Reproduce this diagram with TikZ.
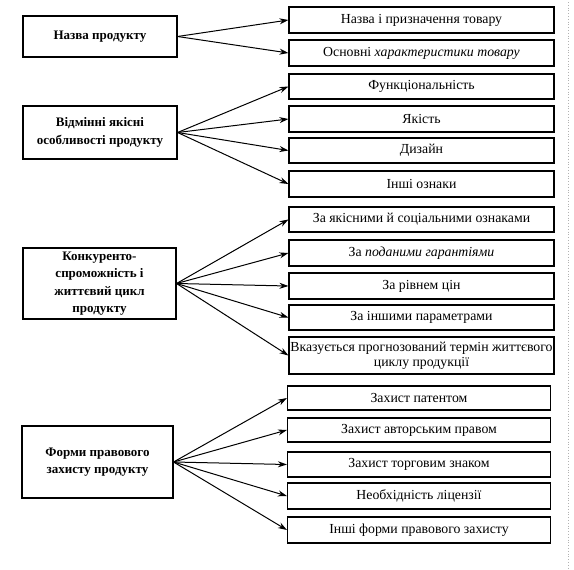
\documentclass[tikz,border=0pt]{standalone}
\usepackage{fontspec}
\setmainfont{Liberation Serif}
\usetikzlibrary{arrows.meta}
\begin{document}
\begin{tikzpicture}[x=1pt,y=-1pt,
 lbox/.style={draw, line width=1.1pt, align=center, inner sep=2pt, font=\bfseries\fontsize{13}{17.5}\selectfont},
 rbox/.style={draw, line width=1.1pt, align=center, inner sep=1pt, minimum width=265pt, font=\fontsize{13.8}{15}\selectfont},
 arr/.style={-{Stealth[length=9pt,width=6pt]}, line width=1pt}]
\useasboundingbox (0,0) rectangle (574,570);
% left boxes
\node[lbox, minimum width=154pt, minimum height=41pt] (l1) at (100,36.5) {Назва продукту};
\node[lbox, minimum width=154pt, minimum height=53pt] (l2) at (100,132.5) {Відмінні якісні\\особливості продукту};
\node[lbox, minimum width=153pt, minimum height=71pt] (l3) at (99.5,283.5) {Конкуренто-\\спроможність і\\життєвий цикл\\продукту};
\node[lbox, minimum width=151pt, minimum height=72pt] (l4) at (97.5,462) {Форми правового\\захисту продукту};
% right boxes
\node[rbox, minimum height=26pt] (r1) at (421.5,20) {Назва і призначення товару};
\node[rbox, minimum height=26pt] (r2) at (421.5,53) {Основні \textit{характеристики товару}};
\node[rbox, minimum height=25pt] (r3) at (421.5,86.5) {Функціональність};
\node[rbox, minimum height=26pt] (r4) at (421.5,119) {Якість};
\node[rbox, minimum height=25pt] (r5) at (421.5,150.5) {Дизайн};
\node[rbox, minimum height=26pt] (r6) at (421.5,184) {Інші ознаки};
\node[rbox, minimum height=25pt] (r7) at (421.5,219.5) {За якісними й соціальними ознаками};
\node[rbox, minimum height=26pt] (r8) at (421.5,253) {За \textit{поданими гарантіями}};
\node[rbox, minimum height=26pt] (r9) at (421.5,286) {За рівнем цін};
\node[rbox, minimum height=25pt] (r10) at (421.5,317.5) {За іншими параметрами};
\node[rbox, minimum height=37pt] (r11) at (421.5,355.5) {Вказується прогнозований термін життєвого\\циклу продукції};
\node[rbox, minimum height=24pt, minimum width=263pt] (r12) at (419,398) {Захист патентом};
\node[rbox, minimum height=24pt, minimum width=263pt] (r13) at (419,430) {Захист авторським правом};
\node[rbox, minimum height=25pt, minimum width=263pt] (r14) at (419,464.5) {Захист торговим знаком};
\node[rbox, minimum height=26pt, minimum width=263pt] (r15) at (419,496) {Необхідність ліцензії};
\node[rbox, minimum height=26pt, minimum width=263pt] (r16) at (419,530) {Інші форми правового захисту};
% arrows
\foreach \r in {r1,r2} \draw[arr] (l1.east) -- (\r.west);
\foreach \r in {r3,r4,r5,r6} \draw[arr] (l2.east) -- (\r.west);
\foreach \r in {r7,r8,r9,r10,r11} \draw[arr] (l3.east) -- (\r.west);
\foreach \r in {r12,r13,r14,r15,r16} \draw[arr] (l4.east) -- (\r.west);
% scan border
\coordinate (bt) at (568,2);
\coordinate (bb) at (568,570);
\draw[gray!60, dotted, line width=0.8pt] (bt) -- (bb);
\end{tikzpicture}
\end{document}
